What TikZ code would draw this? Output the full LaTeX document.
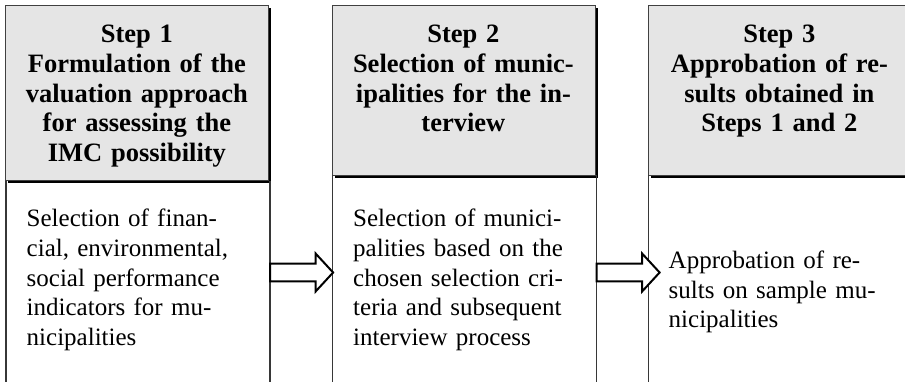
\documentclass[tikz,border=0pt]{standalone}
\usepackage{fontspec}
\setmainfont{Liberation Serif}
\usetikzlibrary{calc,shadows}
\definecolor{headfill}{RGB}{229,229,229}
\definecolor{colline}{RGB}{55,55,55}

\begin{document}
\begin{tikzpicture}[x=1pt,y=1pt,
  headbox/.style={draw=black!75, line width=0.8pt, fill=headfill, inner sep=0pt,
    anchor=north west, minimum width=263pt,
    drop shadow={shadow xshift=2.6pt, shadow yshift=-2.6pt, fill=black, opacity=1}},
  headtext/.style={font=\bfseries\fontsize{26.5}{29.9}\selectfont, align=center,
    text width=255pt, anchor=base, inner sep=0pt},
  bodytext/.style={font=\fontsize{25}{29.7}\selectfont, align=left,
    text width=240pt, anchor=base west, inner sep=0pt},
  column/.style={draw=colline, line width=1.4pt},
  blockarrow/.style={draw=black, line width=2pt, fill=white, line join=miter},
]
\useasboundingbox (0,0) rectangle (905,381);

% step headers
\node[headbox, minimum height=175pt]   (h1) at (5,376)     {};
\node[headbox, minimum height=169.5pt] (h2) at (331.5,376) {};
\node[headbox, minimum height=169.5pt] (h3) at (647.5,376) {};

\node[headtext] (h1t) at ($(h1.north)+(0,-37.3)$)
  {Step 1\\Formulation of the\\valuation approach\\for assessing the\\IMC possibility};
\node[headtext] (h2t) at ($(h2.north)+(0,-37.3)$)
  {Step 2\\Selection of munic-\\ipalities for the in-\\terview};
\node[headtext] (h3t) at ($(h3.north)+(0,-37.3)$)
  {Step 3\\Approbation of re-\\sults obtained in\\Steps 1 and 2};

% open columns below the headers
\coordinate (c1l) at ($(h1.south west)+(1,0)$);
\coordinate (c1r) at ($(h1.south east)+(1.3,0)$);
\coordinate (c2l) at ($(h2.south west)+(1,0)$);
\coordinate (c2r) at ($(h2.south east)+(1.3,0)$);
\coordinate (c3l) at ($(h3.south west)+(1,0)$);
\coordinate (c3r) at ($(h3.south east)+(1.3,0)$);
\foreach \c in {c1l,c1r,c2l,c2r,c3l,c3r}
  \draw[column] (\c) -- (\c |- 0,-5);

% column texts
\node[bodytext] (b1) at ($(c1l |- 0,154.3)+(20.5,0)$)
  {Selection of finan-\\cial, environmental,\\social performance\\indicators for mu-\\nicipalities};
\node[bodytext] (b2) at ($(c2l |- 0,154.3)+(20.5,0)$)
  {Selection of munici-\\palities based on the\\chosen selection cri-\\teria and subsequent\\interview process};
\node[bodytext] (b3) at ($(c3l |- 0,112.7)+(20,0)$)
  {Approbation of re-\\sults on sample mu-\\nicipalities};

% block arrows between the columns
\coordinate (a1) at (c1r |- 0,108.5);
\coordinate (a2) at (c2r |- 0,108.5);
\foreach \a in {a1,a2}
  \draw[blockarrow] (\a) ++(0,8.8) -- ++(45.5,0) -- ++(0,10.2) -- ++(17.5,-19)
    -- ++(-17.5,-19) -- ++(0,10.2) -- ++(-45.5,0) -- cycle;
\end{tikzpicture}
\end{document}
